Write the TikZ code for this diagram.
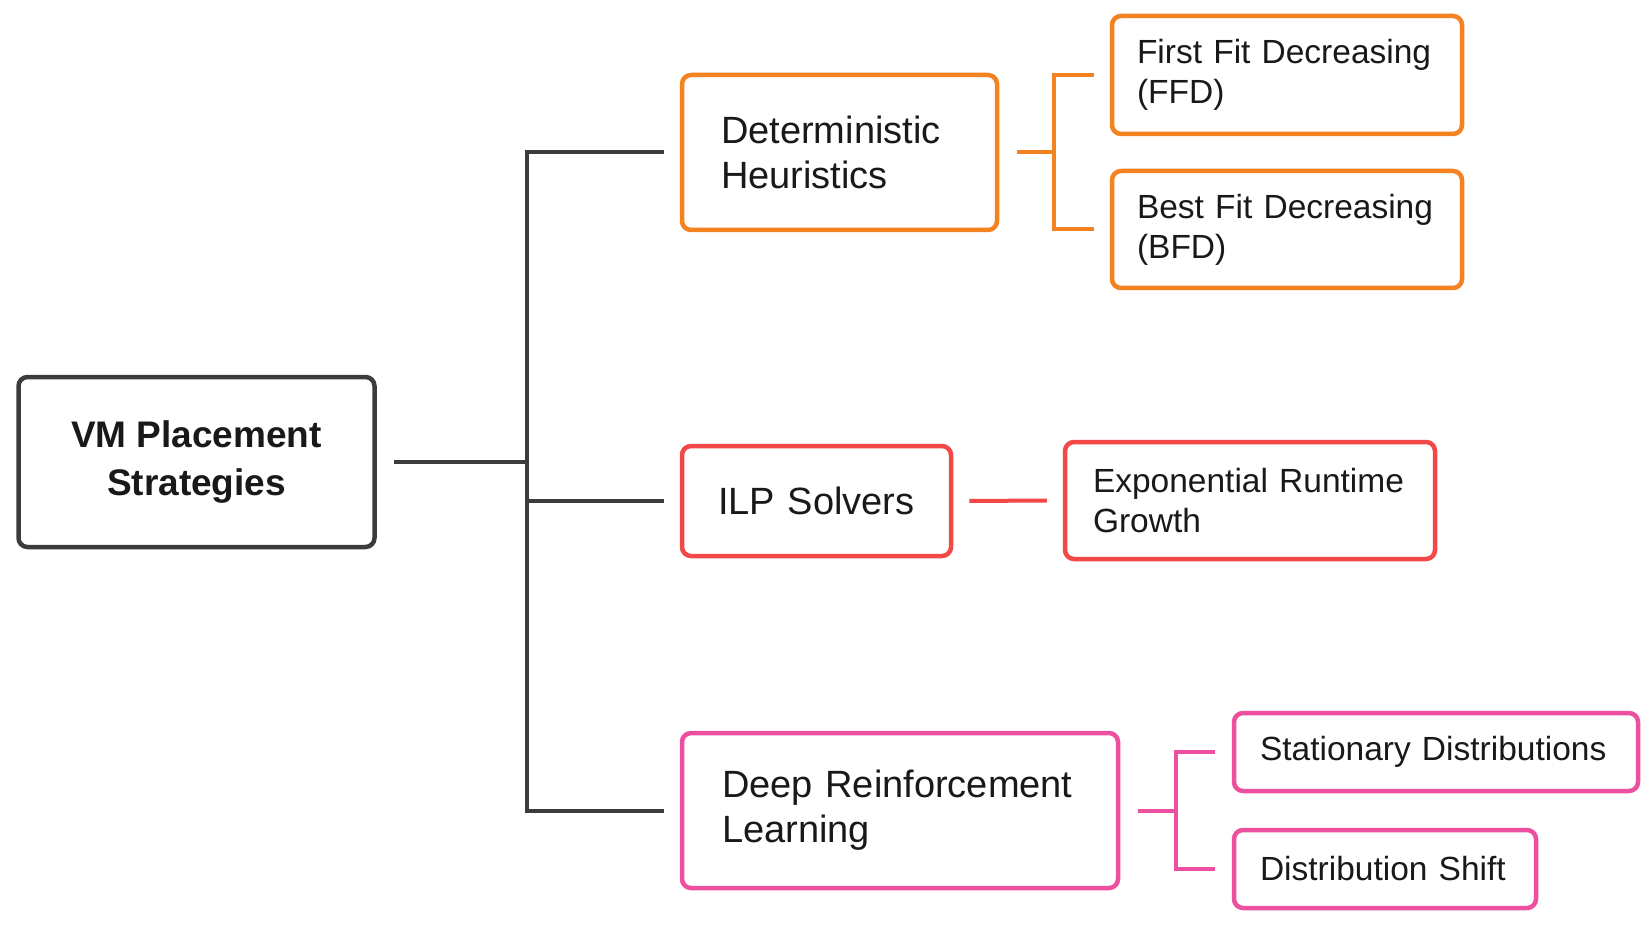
\documentclass[tikz,border=0pt]{standalone}
\usepackage{fontspec}
\setmainfont{Liberation Sans}
\definecolor{dark}{RGB}{60,60,60}
\definecolor{txt}{RGB}{25,25,25}
\definecolor{orng}{RGB}{245,130,32}
\definecolor{redc}{RGB}{242,72,72}
\definecolor{pinkc}{RGB}{238,80,160}
\begin{document}
\begin{tikzpicture}[x=1pt,y=-1pt,
  box/.style={draw, line width=4.5pt, rounded corners=9pt, align=left, inner ysep=0pt, text=txt, fill=white,
    execute at begin node={\hyphenpenalty=10000\exhyphenpenalty=10000}},
  big/.style={font=\fontsize{38}{45}\selectfont},
  small/.style={font=\fontsize{33.5}{40}\selectfont},
  lnk/.style={line width=4pt}]
\useasboundingbox[fill=white] (0,0) rectangle (1652,925);
% nodes
\node[box, draw=dark, align=center, font=\bfseries\fontsize{37}{48}\selectfont, minimum width=356pt, minimum height=170pt] (root) at (196.5,462) {VM Placement\\Strategies};
\node[box, big, draw=orng, text width=237pt, inner xsep=39pt, minimum height=155pt] (det) at (839.5,152.5) {Deterministic\\Heuristics};
\node[box, small, draw=orng, text width=300pt, inner xsep=25pt, minimum height=118pt] (ffd) at (1287,75) {First Fit Decreasing\\(FFD)};
\node[box, small, draw=orng, text width=300pt, inner xsep=25pt, minimum height=117pt] (bfd) at (1287,229.5) {Best Fit Decreasing\\(BFD)};
\node[box, big, draw=redc, text width=197pt, inner xsep=36pt, minimum height=110pt] (ilp) at (816.5,501) {ILP Solvers};
\node[box, small, draw=redc, text width=314pt, inner xsep=28pt, minimum height=117pt] (exp) at (1250,500.5) {Exponential Runtime\\Growth};
\node[box, big, draw=pinkc, text width=356pt, inner xsep=40pt, minimum height=155pt] (drl) at (900,810.5) {Deep Reinforcement\\Learning};
\node[box, small, draw=pinkc, text width=352pt, inner xsep=26pt, minimum height=78pt] (stat) at (1436,752) {Stationary Distributions};
\node[box, small, draw=pinkc, text width=250pt, inner xsep=26pt, minimum height=78pt] (shift) at (1385,869) {Distribution Shift};
% trunk
\coordinate (tr) at (527,0);
\draw[lnk, draw=dark] ([xshift=17pt]root.east) -- (tr |- root.east);
\draw[lnk, draw=dark] ([xshift=-16pt]det.west) -- (tr |- det.west) -- (tr |- drl.west) -- ([xshift=-16pt]drl.west);
\draw[lnk, draw=dark] (tr |- ilp.west) -- ([xshift=-16pt]ilp.west);
% orange bracket
\coordinate (ob) at (1054,0);
\draw[lnk, draw=orng] ([xshift=18pt]det.east) -- (ob |- det.east);
\draw[lnk, draw=orng] ([xshift=-16pt]ffd.west) -- (ob |- ffd.west) -- (ob |- bfd.west) -- ([xshift=-16pt]bfd.west);
% red link
\draw[lnk, draw=redc] ([xshift=16pt]ilp.east) -- ([xshift=-16pt]exp.west);
% pink bracket
\coordinate (pb) at (1176,0);
\draw[lnk, draw=pinkc] ([xshift=18pt]drl.east) -- (pb |- drl.east);
\draw[lnk, draw=pinkc] ([xshift=-17pt]stat.west) -- (pb |- stat.west) -- (pb |- shift.west) -- ([xshift=-17pt]shift.west);
\end{tikzpicture}
\end{document}
